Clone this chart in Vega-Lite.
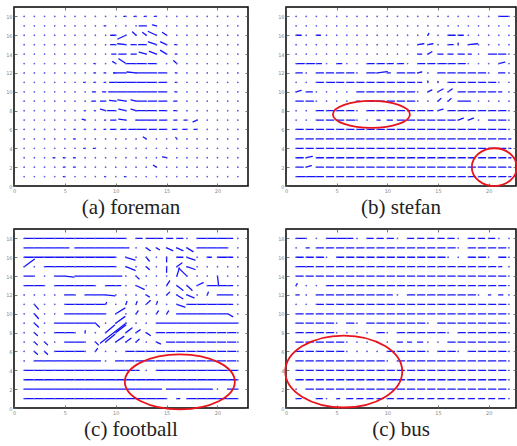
{
"$schema":"https://vega.github.io/schema/vega-lite/v6.json",
"padding":{"left":4,"top":5,"right":1,"bottom":0},
"bounds":"flush",
"columns":2,
"spacing":{"row":43,"column":38},
"config":{
"view":{"stroke":"#000","strokeWidth":1.5},
"axis":{"domain":false,"grid":false,"title":null,"labelFontSize":5,"labelColor":"#888","labelFont":"DejaVu Sans","tickColor":"#555","tickSize":-3,"tickWidth":0.8,"labelPadding":5,"labelFlush":false,"labelOverlap":false}
},
"datasets":{
"a":[
{"x":1,"y":18,"x2":1},{"x":2,"y":18,"x2":2},{"x":3,"y":18,"x2":3},{"x":4,"y":18,"x2":4},{"x":5,"y":18,"x2":5},{"x":6,"y":18,"x2":6},{"x":7,"y":18,"x2":7},{"x":8,"y":18,"x2":8},{"x":9,"y":18,"x2":9},{"x":10,"y":18,"x2":10},{"x":11,"y":18,"x2":10.8},{"x":12,"y":18,"x2":11.8},{"x":13,"y":18,"x2":12.8},{"x":14,"y":18,"x2":13.8},{"x":15,"y":18,"x2":15},{"x":16,"y":18,"x2":16},{"x":17,"y":18,"x2":17},{"x":18,"y":18,"x2":18},{"x":19,"y":18,"x2":19},{"x":20,"y":18,"x2":20},{"x":21,"y":18,"x2":21},{"x":22,"y":18,"x2":22},
{"x":1,"y":17,"x2":1},{"x":2,"y":17,"x2":2},{"x":3,"y":17,"x2":3},{"x":4,"y":17,"x2":4},{"x":5,"y":17,"x2":5},{"x":6,"y":17,"x2":6},{"x":7,"y":17,"x2":7},{"x":8,"y":17,"x2":8},{"x":9,"y":17,"x2":8.85},{"x":10,"y":17,"x2":10},{"x":11,"y":17,"x2":11},{"x":12,"y":17,"x2":12},{"x":13,"y":17,"x2":12.3},{"x":14,"y":17,"x2":14},{"x":15,"y":17,"x2":15},{"x":16,"y":17,"x2":16},{"x":17,"y":17,"x2":17},{"x":18,"y":17,"x2":18},{"x":19,"y":17,"x2":19},{"x":20,"y":17,"x2":20},{"x":21,"y":17,"x2":21},{"x":22,"y":17,"x2":22},
{"x":1,"y":16,"x2":1},{"x":2,"y":16,"x2":2},{"x":3,"y":16,"x2":3},{"x":4,"y":16,"x2":4},{"x":5,"y":16,"x2":5},{"x":6,"y":16,"x2":6},{"x":7,"y":16,"x2":7},{"x":8,"y":16,"x2":8},{"x":9,"y":16,"x2":9},{"x":10,"y":16,"x2":9.5},{"x":11,"y":16,"x2":11},{"x":12,"y":16,"x2":12},{"x":13,"y":16,"x2":13},{"x":14,"y":16,"x2":14},{"x":15,"y":16,"x2":15},{"x":16,"y":16,"x2":16},{"x":17,"y":16,"x2":17},{"x":18,"y":16,"x2":18},{"x":19,"y":16,"x2":19},{"x":20,"y":16,"x2":20},{"x":21,"y":16,"x2":21},{"x":22,"y":16,"x2":22},
{"x":1,"y":15,"x2":1},{"x":2,"y":15,"x2":2},{"x":3,"y":15,"x2":3},{"x":4,"y":15,"x2":4},{"x":5,"y":15,"x2":5},{"x":6,"y":15,"x2":6},{"x":7,"y":15,"x2":7},{"x":8,"y":15,"x2":8},{"x":9,"y":15,"x2":9},{"x":10,"y":15,"x2":9.5},{"x":11,"y":15,"x2":11},{"x":12,"y":15,"x2":11.5},{"x":13,"y":15,"x2":12.25},{"x":14,"y":15,"x2":14},{"x":15,"y":15,"x2":15},{"x":16,"y":15,"x2":15.8},{"x":17,"y":15,"x2":17},{"x":18,"y":15,"x2":18},{"x":19,"y":15,"x2":19},{"x":20,"y":15,"x2":20},{"x":21,"y":15,"x2":21},{"x":22,"y":15,"x2":22},
{"x":1,"y":14,"x2":1},{"x":2,"y":14,"x2":2},{"x":3,"y":14,"x2":3},{"x":4,"y":14,"x2":4},{"x":5,"y":14,"x2":5},{"x":6,"y":14,"x2":6},{"x":7,"y":14,"x2":7},{"x":8,"y":14,"x2":8},{"x":9,"y":14,"x2":9},{"x":10,"y":14,"x2":9.6},{"x":11,"y":14,"x2":10.3},{"x":12,"y":14,"x2":11.5},{"x":13,"y":14,"x2":13},{"x":14,"y":14,"x2":14},{"x":15,"y":14,"x2":15},{"x":16,"y":14,"x2":15.85},{"x":17,"y":14,"x2":17},{"x":18,"y":14,"x2":18},{"x":19,"y":14,"x2":19},{"x":20,"y":14,"x2":20},{"x":21,"y":14,"x2":21},{"x":22,"y":14,"x2":22},
{"x":1,"y":13,"x2":1},{"x":2,"y":13,"x2":2},{"x":3,"y":13,"x2":3},{"x":4,"y":13,"x2":4},{"x":5,"y":13,"x2":5},{"x":6,"y":13,"x2":6},{"x":7,"y":13,"x2":7},{"x":8,"y":13,"x2":7.85},{"x":9,"y":13,"x2":9},{"x":10,"y":13,"x2":10},{"x":11,"y":13,"x2":11},{"x":12,"y":13,"x2":11.1},{"x":13,"y":13,"x2":12.1},{"x":14,"y":13,"x2":13.2},{"x":15,"y":13,"x2":15},{"x":16,"y":13,"x2":16},{"x":17,"y":13,"x2":17},{"x":18,"y":13,"x2":18},{"x":19,"y":13,"x2":19},{"x":20,"y":13,"x2":20},{"x":21,"y":13,"x2":21},{"x":22,"y":13,"x2":22},
{"x":1,"y":12,"x2":1},{"x":2,"y":12,"x2":2},{"x":3,"y":12,"x2":3},{"x":4,"y":12,"x2":4},{"x":5,"y":12,"x2":5},{"x":6,"y":12,"x2":6},{"x":7,"y":12,"x2":7},{"x":8,"y":12,"x2":7.85},{"x":9,"y":12,"x2":8.85},{"x":10,"y":12,"x2":9.8},{"x":11,"y":12,"x2":9.8},{"x":12,"y":12,"x2":12},{"x":13,"y":12,"x2":12},{"x":14,"y":12,"x2":13.1},{"x":15,"y":12,"x2":14.2},{"x":16,"y":12,"x2":15.85},{"x":17,"y":12,"x2":17},{"x":18,"y":12,"x2":18},{"x":19,"y":12,"x2":19},{"x":20,"y":12,"x2":20},{"x":21,"y":12,"x2":21},{"x":22,"y":12,"x2":22},
{"x":1,"y":11,"x2":1},{"x":2,"y":11,"x2":2},{"x":3,"y":11,"x2":3},{"x":4,"y":11,"x2":4},{"x":5,"y":11,"x2":5},{"x":6,"y":11,"x2":6},{"x":7,"y":11,"x2":6.85},{"x":8,"y":11,"x2":7.85},{"x":9,"y":11,"x2":8.85},{"x":10,"y":11,"x2":9.4},{"x":11,"y":11,"x2":10},{"x":12,"y":11,"x2":11},{"x":13,"y":11,"x2":12.1},{"x":14,"y":11,"x2":13.1},{"x":15,"y":11,"x2":14.25},{"x":16,"y":11,"x2":15.85},{"x":17,"y":11,"x2":17},{"x":18,"y":11,"x2":18},{"x":19,"y":11,"x2":19},{"x":20,"y":11,"x2":20},{"x":21,"y":11,"x2":21},{"x":22,"y":11,"x2":22},
{"x":1,"y":10,"x2":1},{"x":2,"y":10,"x2":2},{"x":3,"y":10,"x2":3},{"x":4,"y":10,"x2":4},{"x":5,"y":10,"x2":5},{"x":6,"y":10,"x2":6},{"x":7,"y":10,"x2":7},{"x":8,"y":10,"x2":7.7},{"x":9,"y":10,"x2":8.7},{"x":10,"y":10,"x2":9.3},{"x":11,"y":10,"x2":10.1},{"x":12,"y":10,"x2":11.1},{"x":13,"y":10,"x2":12.1},{"x":14,"y":10,"x2":13.1},{"x":15,"y":10,"x2":14.2},{"x":16,"y":10,"x2":15.8},{"x":17,"y":10,"x2":17},{"x":18,"y":10,"x2":18},{"x":19,"y":10,"x2":19},{"x":20,"y":10,"x2":20},{"x":21,"y":10,"x2":21},{"x":22,"y":10,"x2":22},
{"x":1,"y":9,"x2":1},{"x":2,"y":9,"x2":2},{"x":3,"y":9,"x2":3},{"x":4,"y":9,"x2":4},{"x":5,"y":9,"x2":5},{"x":6,"y":9,"x2":6},{"x":7,"y":9,"x2":7},{"x":8,"y":9,"x2":7.65},{"x":9,"y":9,"x2":8.5},{"x":10,"y":9,"x2":10},{"x":11,"y":9,"x2":11},{"x":12,"y":9,"x2":12},{"x":13,"y":9,"x2":12.1},{"x":14,"y":9,"x2":13.2},{"x":15,"y":9,"x2":14.25},{"x":16,"y":9,"x2":15.7},{"x":17,"y":9,"x2":17},{"x":18,"y":9,"x2":18},{"x":19,"y":9,"x2":19},{"x":20,"y":9,"x2":20},{"x":21,"y":9,"x2":21},{"x":22,"y":9,"x2":22},
{"x":1,"y":8,"x2":1},{"x":2,"y":8,"x2":2},{"x":3,"y":8,"x2":3},{"x":4,"y":8,"x2":4},{"x":5,"y":8,"x2":5},{"x":6,"y":8,"x2":6},{"x":7,"y":8,"x2":6.9},{"x":8,"y":8,"x2":7.9},{"x":9,"y":8,"x2":9},{"x":10,"y":8,"x2":9.2},{"x":11,"y":8,"x2":11},{"x":12,"y":8,"x2":12},{"x":13,"y":8,"x2":12},{"x":14,"y":8,"x2":13.1},{"x":15,"y":8,"x2":14.3},{"x":16,"y":8,"x2":15.7},{"x":17,"y":8,"x2":17},{"x":18,"y":8,"x2":18},{"x":19,"y":8,"x2":19},{"x":20,"y":8,"x2":20},{"x":21,"y":8,"x2":21},{"x":22,"y":8,"x2":22},
{"x":1,"y":7,"x2":1},{"x":2,"y":7,"x2":2},{"x":3,"y":7,"x2":3},{"x":4,"y":7,"x2":4},{"x":5,"y":7,"x2":5},{"x":6,"y":7,"x2":6},{"x":7,"y":7,"x2":7},{"x":8,"y":7,"x2":8},{"x":9,"y":7,"x2":8.9},{"x":10,"y":7,"x2":9.5},{"x":11,"y":7,"x2":11},{"x":12,"y":7,"x2":12},{"x":13,"y":7,"x2":12},{"x":14,"y":7,"x2":13.1},{"x":15,"y":7,"x2":14.3},{"x":16,"y":7,"x2":15.7},{"x":17,"y":7,"x2":16.7},{"x":18,"y":7,"x2":18},{"x":19,"y":7,"x2":19},{"x":20,"y":7,"x2":20},{"x":21,"y":7,"x2":21},{"x":22,"y":7,"x2":22},
{"x":1,"y":6,"x2":1},{"x":2,"y":6,"x2":2},{"x":3,"y":6,"x2":3},{"x":4,"y":6,"x2":4},{"x":5,"y":6,"x2":5},{"x":6,"y":6,"x2":5.9},{"x":7,"y":6,"x2":6.9},{"x":8,"y":6,"x2":7.9},{"x":9,"y":6,"x2":8.85},{"x":10,"y":6,"x2":9.5},{"x":11,"y":6,"x2":10.5},{"x":12,"y":6,"x2":11.3},{"x":13,"y":6,"x2":12.1},{"x":14,"y":6,"x2":13.3},{"x":15,"y":6,"x2":14.3},{"x":16,"y":6,"x2":15.6},{"x":17,"y":6,"x2":16.6},{"x":18,"y":6,"x2":17.7},{"x":19,"y":6,"x2":19},{"x":20,"y":6,"x2":20},{"x":21,"y":6,"x2":21},{"x":22,"y":6,"x2":22},
{"x":1,"y":5,"x2":1},{"x":2,"y":5,"x2":2},{"x":3,"y":5,"x2":3},{"x":4,"y":5,"x2":4},{"x":5,"y":5,"x2":5},{"x":6,"y":5,"x2":5.85},{"x":7,"y":5,"x2":7},{"x":8,"y":5,"x2":8},{"x":9,"y":5,"x2":9},{"x":10,"y":5,"x2":10},{"x":11,"y":5,"x2":11},{"x":12,"y":5,"x2":12},{"x":13,"y":5,"x2":13},{"x":14,"y":5,"x2":14},{"x":15,"y":5,"x2":15},{"x":16,"y":5,"x2":16},{"x":17,"y":5,"x2":17},{"x":18,"y":5,"x2":18},{"x":19,"y":5,"x2":19},{"x":20,"y":5,"x2":20},{"x":21,"y":5,"x2":21},{"x":22,"y":5,"x2":22},
{"x":1,"y":4,"x2":1},{"x":2,"y":4,"x2":2},{"x":3,"y":4,"x2":3},{"x":4,"y":4,"x2":4},{"x":5,"y":4,"x2":5},{"x":6,"y":4,"x2":6},{"x":7,"y":4,"x2":6.85},{"x":8,"y":4,"x2":7.8},{"x":9,"y":4,"x2":9},{"x":10,"y":4,"x2":10},{"x":11,"y":4,"x2":11},{"x":12,"y":4,"x2":12},{"x":13,"y":4,"x2":13},{"x":14,"y":4,"x2":14},{"x":15,"y":4,"x2":15},{"x":16,"y":4,"x2":16},{"x":17,"y":4,"x2":17},{"x":18,"y":4,"x2":18},{"x":19,"y":4,"x2":19},{"x":20,"y":4,"x2":20},{"x":21,"y":4,"x2":21},{"x":22,"y":4,"x2":22},
{"x":1,"y":3,"x2":1},{"x":2,"y":3,"x2":2},{"x":3,"y":3,"x2":3},{"x":4,"y":3,"x2":3.85},{"x":5,"y":3,"x2":4.85},{"x":6,"y":3,"x2":5.85},{"x":7,"y":3,"x2":7},{"x":8,"y":3,"x2":8},{"x":9,"y":3,"x2":9},{"x":10,"y":3,"x2":10},{"x":11,"y":3,"x2":11},{"x":12,"y":3,"x2":12},{"x":13,"y":3,"x2":13},{"x":14,"y":3,"x2":14},{"x":15,"y":3,"x2":15},{"x":16,"y":3,"x2":16},{"x":17,"y":3,"x2":17},{"x":18,"y":3,"x2":18},{"x":19,"y":3,"x2":19},{"x":20,"y":3,"x2":20},{"x":21,"y":3,"x2":21},{"x":22,"y":3,"x2":22},
{"x":1,"y":2,"x2":1},{"x":2,"y":2,"x2":2},{"x":3,"y":2,"x2":3},{"x":4,"y":2,"x2":4},{"x":5,"y":2,"x2":4.85},{"x":6,"y":2,"x2":5.85},{"x":7,"y":2,"x2":7},{"x":8,"y":2,"x2":8},{"x":9,"y":2,"x2":9},{"x":10,"y":2,"x2":10},{"x":11,"y":2,"x2":11},{"x":12,"y":2,"x2":12},{"x":13,"y":2,"x2":13},{"x":14,"y":2,"x2":14},{"x":15,"y":2,"x2":15},{"x":16,"y":2,"x2":16},{"x":17,"y":2,"x2":17},{"x":18,"y":2,"x2":18},{"x":19,"y":2,"x2":19},{"x":20,"y":2,"x2":20},{"x":21,"y":2,"x2":21},{"x":22,"y":2,"x2":22},
{"x":1,"y":1,"x2":1},{"x":2,"y":1,"x2":2},{"x":3,"y":1,"x2":3},{"x":4,"y":1,"x2":4},{"x":5,"y":1,"x2":4.85},{"x":6,"y":1,"x2":6},{"x":7,"y":1,"x2":7},{"x":8,"y":1,"x2":8},{"x":9,"y":1,"x2":8.9},{"x":10,"y":1,"x2":10},{"x":11,"y":1,"x2":10.85},{"x":12,"y":1,"x2":12},{"x":13,"y":1,"x2":13},{"x":14,"y":1,"x2":14},{"x":15,"y":1,"x2":15},{"x":16,"y":1,"x2":16},{"x":17,"y":1,"x2":17},{"x":18,"y":1,"x2":18},{"x":19,"y":1,"x2":19},{"x":20,"y":1,"x2":20},{"x":21,"y":1,"x2":21},{"x":22,"y":1,"x2":22}
],
"ad":[
{"x":14,"y":17,"x2":13.6,"y2":17.1},
{"x":11,"y":16,"x2":10.2,"y2":15.6},{"x":12,"y":16,"x2":11.65,"y2":16.35},{"x":13,"y":16,"x2":12.65,"y2":16.3},{"x":14,"y":16,"x2":13.2,"y2":16.4},{"x":15,"y":16,"x2":14.6,"y2":16.3},
{"x":11,"y":15,"x2":10.2,"y2":15.1},{"x":14,"y":15,"x2":13.2,"y2":15.3},{"x":15,"y":15,"x2":14.4,"y2":15.3},
{"x":13,"y":14,"x2":12.3,"y2":14.2},{"x":14,"y":14,"x2":13.3,"y2":14.3},{"x":15,"y":14,"x2":14.4,"y2":14.4},
{"x":10,"y":13,"x2":9.7,"y2":13.2},{"x":11,"y":13,"x2":10.3,"y2":13.5},{"x":16,"y":13,"x2":15.7,"y2":13.3},
{"x":12,"y":12,"x2":11.1,"y2":12.1},
{"x":10,"y":9,"x2":9.4,"y2":9.1},{"x":11,"y":9,"x2":10.2,"y2":9.15},{"x":12,"y":9,"x2":11.5,"y2":9.15},
{"x":9,"y":8,"x2":8.5,"y2":8.15},{"x":11,"y":8,"x2":10.3,"y2":8.15},{"x":12,"y":8,"x2":11.5,"y2":8.15},
{"x":7,"y":7,"x2":6.7,"y2":7.1},{"x":11,"y":7,"x2":10.3,"y2":7.1},{"x":18,"y":7,"x2":17.6,"y2":6.8},
{"x":13,"y":5,"x2":12.7,"y2":5.2},{"x":16,"y":5,"x2":15.9,"y2":5.15},
{"x":15,"y":3,"x2":14.6,"y2":3.1},{"x":14,"y":2,"x2":13.7,"y2":2.2}
],
"b":[
{"x":1,"y":18,"x2":1},{"x":2,"y":18,"x2":2},{"x":3,"y":18,"x2":3},{"x":4,"y":18,"x2":4},{"x":5,"y":18,"x2":5},{"x":6,"y":18,"x2":6},{"x":7,"y":18,"x2":7},{"x":8,"y":18,"x2":8},{"x":9,"y":18,"x2":9},{"x":10,"y":18,"x2":10},{"x":11,"y":18,"x2":11},{"x":12,"y":18,"x2":12},{"x":13,"y":18,"x2":13},{"x":14,"y":18,"x2":14},{"x":15,"y":18,"x2":15},{"x":16,"y":18,"x2":16},{"x":17,"y":18,"x2":17},{"x":18,"y":18,"x2":18},{"x":19,"y":18,"x2":19},{"x":20,"y":18,"x2":20},{"x":21,"y":18,"x2":21.9},{"x":22,"y":18,"x2":22},
{"x":1,"y":17,"x2":1},{"x":2,"y":17,"x2":2},{"x":3,"y":17,"x2":3},{"x":4,"y":17,"x2":4},{"x":5,"y":17,"x2":5},{"x":6,"y":17,"x2":6},{"x":7,"y":17,"x2":7},{"x":8,"y":17,"x2":8},{"x":9,"y":17,"x2":9},{"x":10,"y":17,"x2":10},{"x":11,"y":17,"x2":11},{"x":12,"y":17,"x2":12},{"x":13,"y":17,"x2":13},{"x":14,"y":17,"x2":14},{"x":15,"y":17,"x2":15},{"x":16,"y":17,"x2":16},{"x":17,"y":17,"x2":17},{"x":18,"y":17,"x2":18},{"x":19,"y":17,"x2":19},{"x":20,"y":17,"x2":20},{"x":21,"y":17,"x2":21},{"x":22,"y":17,"x2":22},
{"x":1,"y":16,"x2":1.5},{"x":2,"y":16,"x2":2},{"x":3,"y":16,"x2":3.4},{"x":4,"y":16,"x2":4},{"x":5,"y":16,"x2":5},{"x":6,"y":16,"x2":6},{"x":7,"y":16,"x2":7},{"x":8,"y":16,"x2":8},{"x":9,"y":16,"x2":9},{"x":10,"y":16,"x2":10},{"x":11,"y":16,"x2":11},{"x":12,"y":16,"x2":12},{"x":13,"y":16,"x2":13},{"x":14,"y":16,"x2":14},{"x":15,"y":16,"x2":15},{"x":16,"y":16,"x2":16.7},{"x":17,"y":16,"x2":17.5},{"x":18,"y":16,"x2":18},{"x":19,"y":16,"x2":19},{"x":20,"y":16,"x2":20},{"x":21,"y":16,"x2":21},{"x":22,"y":16,"x2":22},
{"x":1,"y":15,"x2":1},{"x":2,"y":15,"x2":2},{"x":3,"y":15,"x2":3},{"x":4,"y":15,"x2":4},{"x":5,"y":15,"x2":5},{"x":6,"y":15,"x2":6},{"x":7,"y":15,"x2":7},{"x":8,"y":15,"x2":8},{"x":9,"y":15,"x2":9},{"x":10,"y":15,"x2":10},{"x":11,"y":15,"x2":11},{"x":12,"y":15,"x2":12},{"x":13,"y":15,"x2":13},{"x":14,"y":15,"x2":14},{"x":15,"y":15,"x2":15},{"x":16,"y":15,"x2":16.5},{"x":17,"y":15,"x2":17},{"x":18,"y":15,"x2":18},{"x":19,"y":15,"x2":19},{"x":20,"y":15,"x2":20},{"x":21,"y":15,"x2":21},{"x":22,"y":15,"x2":22},
{"x":1,"y":14,"x2":1},{"x":2,"y":14,"x2":2},{"x":3,"y":14,"x2":3},{"x":4,"y":14,"x2":4},{"x":5,"y":14,"x2":5},{"x":6,"y":14,"x2":6},{"x":7,"y":14,"x2":7},{"x":8,"y":14,"x2":8},{"x":9,"y":14,"x2":9},{"x":10,"y":14,"x2":10},{"x":11,"y":14,"x2":11},{"x":12,"y":14,"x2":12},{"x":13,"y":14,"x2":13.4},{"x":14,"y":14,"x2":14},{"x":15,"y":14,"x2":15.5},{"x":16,"y":14,"x2":16.5},{"x":17,"y":14,"x2":17.6},{"x":18,"y":14,"x2":18.3},{"x":19,"y":14,"x2":19},{"x":20,"y":14,"x2":20.8},{"x":21,"y":14,"x2":21.7},{"x":22,"y":14,"x2":22},
{"x":1,"y":13,"x2":1.8},{"x":2,"y":13,"x2":2.8},{"x":3,"y":13,"x2":3.5},{"x":4,"y":13,"x2":4},{"x":5,"y":13,"x2":5.5},{"x":6,"y":13,"x2":6},{"x":7,"y":13,"x2":7},{"x":8,"y":13,"x2":8.7},{"x":9,"y":13,"x2":9.7},{"x":10,"y":13,"x2":10.6},{"x":11,"y":13,"x2":11.6},{"x":12,"y":13,"x2":12},{"x":13,"y":13,"x2":13.7},{"x":14,"y":13,"x2":14.7},{"x":15,"y":13,"x2":15.8},{"x":16,"y":13,"x2":16.7},{"x":17,"y":13,"x2":17.7},{"x":18,"y":13,"x2":18},{"x":19,"y":13,"x2":19},{"x":20,"y":13,"x2":20},{"x":21,"y":13,"x2":21},{"x":22,"y":13,"x2":22},
{"x":1,"y":12,"x2":1.6},{"x":2,"y":12,"x2":2},{"x":3,"y":12,"x2":3.7},{"x":4,"y":12,"x2":4.7},{"x":5,"y":12,"x2":5.7},{"x":6,"y":12,"x2":6.7},{"x":7,"y":12,"x2":7},{"x":8,"y":12,"x2":8.8},{"x":9,"y":12,"x2":9},{"x":10,"y":12,"x2":10.3},{"x":11,"y":12,"x2":11.7},{"x":12,"y":12,"x2":12.7},{"x":13,"y":12,"x2":13},{"x":14,"y":12,"x2":14},{"x":15,"y":12,"x2":15.7},{"x":16,"y":12,"x2":16.7},{"x":17,"y":12,"x2":17.7},{"x":18,"y":12,"x2":18.7},{"x":19,"y":12,"x2":19.7},{"x":20,"y":12,"x2":20},{"x":21,"y":12,"x2":21.6},{"x":22,"y":12,"x2":22},
{"x":1,"y":11,"x2":1},{"x":2,"y":11,"x2":2},{"x":3,"y":11,"x2":3.7},{"x":4,"y":11,"x2":4.8},{"x":5,"y":11,"x2":5.7},{"x":6,"y":11,"x2":6.7},{"x":7,"y":11,"x2":7.7},{"x":8,"y":11,"x2":8.7},{"x":9,"y":11,"x2":9.7},{"x":10,"y":11,"x2":10.7},{"x":11,"y":11,"x2":11.7},{"x":12,"y":11,"x2":12.7},{"x":13,"y":11,"x2":13.4},{"x":14,"y":11,"x2":14},{"x":15,"y":11,"x2":15},{"x":16,"y":11,"x2":16.7},{"x":17,"y":11,"x2":17.7},{"x":18,"y":11,"x2":18.7},{"x":19,"y":11,"x2":19.7},{"x":20,"y":11,"x2":20.7},{"x":21,"y":11,"x2":21},{"x":22,"y":11,"x2":22},
{"x":1,"y":10,"x2":1},{"x":2,"y":10,"x2":2.6},{"x":3,"y":10,"x2":3},{"x":4,"y":10,"x2":4},{"x":5,"y":10,"x2":5},{"x":6,"y":10,"x2":6},{"x":7,"y":10,"x2":7.7},{"x":8,"y":10,"x2":8.7},{"x":9,"y":10,"x2":9.7},{"x":10,"y":10,"x2":10.7},{"x":11,"y":10,"x2":11.7},{"x":12,"y":10,"x2":12.7},{"x":13,"y":10,"x2":13},{"x":14,"y":10,"x2":14},{"x":15,"y":10,"x2":15},{"x":16,"y":10,"x2":16},{"x":17,"y":10,"x2":17.7},{"x":18,"y":10,"x2":18.7},{"x":19,"y":10,"x2":19.7},{"x":20,"y":10,"x2":20.7},{"x":21,"y":10,"x2":21.3},{"x":22,"y":10,"x2":22},
{"x":1,"y":9,"x2":1.7},{"x":2,"y":9,"x2":2.7},{"x":3,"y":9,"x2":3},{"x":4,"y":9,"x2":4},{"x":5,"y":9,"x2":5},{"x":6,"y":9,"x2":6},{"x":7,"y":9,"x2":7.3},{"x":8,"y":9,"x2":8.7},{"x":9,"y":9,"x2":9.7},{"x":10,"y":9,"x2":10.7},{"x":11,"y":9,"x2":11.7},{"x":12,"y":9,"x2":12.7},{"x":13,"y":9,"x2":13},{"x":14,"y":9,"x2":14},{"x":15,"y":9,"x2":15},{"x":16,"y":9,"x2":16},{"x":17,"y":9,"x2":17.9},{"x":18,"y":9,"x2":18.2},{"x":19,"y":9,"x2":19},{"x":20,"y":9,"x2":20},{"x":21,"y":9,"x2":21},{"x":22,"y":9,"x2":22},
{"x":1,"y":8,"x2":1},{"x":2,"y":8,"x2":2},{"x":3,"y":8,"x2":3.7},{"x":4,"y":8,"x2":4.7},{"x":5,"y":8,"x2":5.7},{"x":6,"y":8,"x2":6.7},{"x":7,"y":8,"x2":7},{"x":8,"y":8,"x2":8.7},{"x":9,"y":8,"x2":9.7},{"x":10,"y":8,"x2":10.7},{"x":11,"y":8,"x2":11.7},{"x":12,"y":8,"x2":12.7},{"x":13,"y":8,"x2":13.7},{"x":14,"y":8,"x2":14.5},{"x":15,"y":8,"x2":15},{"x":16,"y":8,"x2":16.7},{"x":17,"y":8,"x2":17.8},{"x":18,"y":8,"x2":18.7},{"x":19,"y":8,"x2":19.7},{"x":20,"y":8,"x2":20.7},{"x":21,"y":8,"x2":21.7},{"x":22,"y":8,"x2":22},
{"x":1,"y":7,"x2":1},{"x":2,"y":7,"x2":2},{"x":3,"y":7,"x2":3.7},{"x":4,"y":7,"x2":4.7},{"x":5,"y":7,"x2":5.7},{"x":6,"y":7,"x2":6.8},{"x":7,"y":7,"x2":7},{"x":8,"y":7,"x2":8},{"x":9,"y":7,"x2":9.3},{"x":10,"y":7,"x2":10.5},{"x":11,"y":7,"x2":11.7},{"x":12,"y":7,"x2":12.7},{"x":13,"y":7,"x2":13.7},{"x":14,"y":7,"x2":14.7},{"x":15,"y":7,"x2":15.7},{"x":16,"y":7,"x2":16.7},{"x":17,"y":7,"x2":17},{"x":18,"y":7,"x2":18},{"x":19,"y":7,"x2":19},{"x":20,"y":7,"x2":20.7},{"x":21,"y":7,"x2":21.7},{"x":22,"y":7,"x2":22},
{"x":1,"y":6,"x2":1.7},{"x":2,"y":6,"x2":2.7},{"x":3,"y":6,"x2":3.7},{"x":4,"y":6,"x2":4.7},{"x":5,"y":6,"x2":5.7},{"x":6,"y":6,"x2":6.7},{"x":7,"y":6,"x2":7.7},{"x":8,"y":6,"x2":8.7},{"x":9,"y":6,"x2":9.7},{"x":10,"y":6,"x2":10.7},{"x":11,"y":6,"x2":11.7},{"x":12,"y":6,"x2":12.7},{"x":13,"y":6,"x2":13.7},{"x":14,"y":6,"x2":14.7},{"x":15,"y":6,"x2":15.7},{"x":16,"y":6,"x2":16.7},{"x":17,"y":6,"x2":17.7},{"x":18,"y":6,"x2":18.7},{"x":19,"y":6,"x2":19.7},{"x":20,"y":6,"x2":20.7},{"x":21,"y":6,"x2":21.7},{"x":22,"y":6,"x2":22},
{"x":1,"y":5,"x2":1.7},{"x":2,"y":5,"x2":2.7},{"x":3,"y":5,"x2":3.7},{"x":4,"y":5,"x2":4.7},{"x":5,"y":5,"x2":5.7},{"x":6,"y":5,"x2":6.7},{"x":7,"y":5,"x2":7.7},{"x":8,"y":5,"x2":8.7},{"x":9,"y":5,"x2":9.7},{"x":10,"y":5,"x2":10.7},{"x":11,"y":5,"x2":11.7},{"x":12,"y":5,"x2":12.7},{"x":13,"y":5,"x2":13.7},{"x":14,"y":5,"x2":14.7},{"x":15,"y":5,"x2":15.7},{"x":16,"y":5,"x2":16.7},{"x":17,"y":5,"x2":17.7},{"x":18,"y":5,"x2":18.7},{"x":19,"y":5,"x2":19.7},{"x":20,"y":5,"x2":20.7},{"x":21,"y":5,"x2":21.7},{"x":22,"y":5,"x2":22.2},
{"x":1,"y":4,"x2":1.7},{"x":2,"y":4,"x2":2.7},{"x":3,"y":4,"x2":3.7},{"x":4,"y":4,"x2":4.7},{"x":5,"y":4,"x2":5.7},{"x":6,"y":4,"x2":6.7},{"x":7,"y":4,"x2":7.7},{"x":8,"y":4,"x2":8.7},{"x":9,"y":4,"x2":9.7},{"x":10,"y":4,"x2":10.7},{"x":11,"y":4,"x2":11.7},{"x":12,"y":4,"x2":12.7},{"x":13,"y":4,"x2":13.7},{"x":14,"y":4,"x2":14.7},{"x":15,"y":4,"x2":15.7},{"x":16,"y":4,"x2":16.7},{"x":17,"y":4,"x2":17.7},{"x":18,"y":4,"x2":18.7},{"x":19,"y":4,"x2":19.7},{"x":20,"y":4,"x2":20.9},{"x":21,"y":4,"x2":21.7},{"x":22,"y":4,"x2":22.2},
{"x":1,"y":3,"x2":1.7},{"x":2,"y":3,"x2":2},{"x":3,"y":3,"x2":3.7},{"x":4,"y":3,"x2":4.7},{"x":5,"y":3,"x2":5.7},{"x":6,"y":3,"x2":6.7},{"x":7,"y":3,"x2":7.7},{"x":8,"y":3,"x2":8.7},{"x":9,"y":3,"x2":9.7},{"x":10,"y":3,"x2":10.7},{"x":11,"y":3,"x2":11.7},{"x":12,"y":3,"x2":12.7},{"x":13,"y":3,"x2":13.7},{"x":14,"y":3,"x2":14.7},{"x":15,"y":3,"x2":15.7},{"x":16,"y":3,"x2":16.7},{"x":17,"y":3,"x2":17.7},{"x":18,"y":3,"x2":18.7},{"x":19,"y":3,"x2":19.7},{"x":20,"y":3,"x2":20.7},{"x":21,"y":3,"x2":21.7},{"x":22,"y":3,"x2":22.2},
{"x":1,"y":2,"x2":1.7},{"x":2,"y":2,"x2":2},{"x":3,"y":2,"x2":3.7},{"x":4,"y":2,"x2":4.7},{"x":5,"y":2,"x2":5.7},{"x":6,"y":2,"x2":6.7},{"x":7,"y":2,"x2":7.7},{"x":8,"y":2,"x2":8.7},{"x":9,"y":2,"x2":9.7},{"x":10,"y":2,"x2":10.7},{"x":11,"y":2,"x2":11.7},{"x":12,"y":2,"x2":12.7},{"x":13,"y":2,"x2":13.7},{"x":14,"y":2,"x2":14.7},{"x":15,"y":2,"x2":15.7},{"x":16,"y":2,"x2":16.7},{"x":17,"y":2,"x2":17.7},{"x":18,"y":2,"x2":18.7},{"x":19,"y":2,"x2":19.7},{"x":20,"y":2,"x2":20.7},{"x":21,"y":2,"x2":21.7},{"x":22,"y":2,"x2":22.2},
{"x":1,"y":1,"x2":1.9},{"x":2,"y":1,"x2":2.9},{"x":3,"y":1,"x2":3.7},{"x":4,"y":1,"x2":4.7},{"x":5,"y":1,"x2":5.7},{"x":6,"y":1,"x2":6.7},{"x":7,"y":1,"x2":7.7},{"x":8,"y":1,"x2":8.7},{"x":9,"y":1,"x2":9.7},{"x":10,"y":1,"x2":10.7},{"x":11,"y":1,"x2":11.7},{"x":12,"y":1,"x2":12.7},{"x":13,"y":1,"x2":13.7},{"x":14,"y":1,"x2":14.7},{"x":15,"y":1,"x2":15.7},{"x":16,"y":1,"x2":16.7},{"x":17,"y":1,"x2":17.7},{"x":18,"y":1,"x2":18.7},{"x":19,"y":1,"x2":19.7},{"x":20,"y":1,"x2":20.7},{"x":21,"y":1,"x2":21.7},{"x":22,"y":1,"x2":22.2}
],
"bd":[
{"x":14,"y":16,"x2":14.1,"y2":16.2},
{"x":13,"y":15,"x2":13.6,"y2":15.1},{"x":14,"y":15,"x2":14.5,"y2":15.1},{"x":17,"y":15,"x2":17,"y2":15.15},{"x":18,"y":15,"x2":18.9,"y2":15.1},
{"x":14,"y":14,"x2":14.4,"y2":14.25},{"x":21,"y":13,"x2":21.6,"y2":13.15},
{"x":9,"y":12,"x2":10,"y2":12.15},{"x":13,"y":12,"x2":13.4,"y2":12.1},
{"x":14,"y":11,"x2":14,"y2":11.15},{"x":15,"y":11,"x2":15,"y2":11.1},
{"x":1,"y":10,"x2":1.5,"y2":10.15},{"x":14,"y":10,"x2":14.4,"y2":10.2},{"x":15,"y":10,"x2":15.5,"y2":10.3},{"x":16,"y":10,"x2":16.4,"y2":10.3},
{"x":15,"y":9,"x2":15.3,"y2":9.3},{"x":16,"y":9,"x2":16.3,"y2":9.3},
{"x":15,"y":8,"x2":15.5,"y2":8.15},
{"x":17,"y":7,"x2":17.5,"y2":7.2},{"x":18,"y":7,"x2":18.5,"y2":7.2},
{"x":2,"y":3,"x2":2.6,"y2":3.15},{"x":2,"y":2,"x2":2.5,"y2":2.15}
],
"c":[
{"x":1,"y":18,"x2":1.9},{"x":2,"y":18,"x2":2.9},{"x":3,"y":18,"x2":3.9},{"x":4,"y":18,"x2":4.9},{"x":5,"y":18,"x2":5.9},{"x":6,"y":18,"x2":6.9},{"x":7,"y":18,"x2":7.9},{"x":8,"y":18,"x2":8.9},{"x":9,"y":18,"x2":9.9},{"x":10,"y":18,"x2":10.9},{"x":11,"y":18,"x2":11},{"x":12,"y":18,"x2":12.6},{"x":13,"y":18,"x2":13.9},{"x":14,"y":18,"x2":14.6},{"x":15,"y":18,"x2":15.6},{"x":16,"y":18,"x2":16.6},{"x":17,"y":18,"x2":17},{"x":18,"y":18,"x2":18.9},{"x":19,"y":18,"x2":19.9},{"x":20,"y":18,"x2":20.9},{"x":21,"y":18,"x2":21.5},{"x":22,"y":18,"x2":22},
{"x":1,"y":17,"x2":1.9},{"x":2,"y":17,"x2":2.9},{"x":3,"y":17,"x2":3.9},{"x":4,"y":17,"x2":4.9},{"x":5,"y":17,"x2":5.4},{"x":6,"y":17,"x2":6.9},{"x":7,"y":17,"x2":7.9},{"x":8,"y":17,"x2":8.9},{"x":9,"y":17,"x2":9.9},{"x":10,"y":17,"x2":10.9},{"x":11,"y":17,"x2":11.3},{"x":12,"y":17,"x2":12},{"x":13,"y":17,"x2":13},{"x":14,"y":17,"x2":14},{"x":15,"y":17,"x2":15},{"x":16,"y":17,"x2":16},{"x":17,"y":17,"x2":17},{"x":18,"y":17,"x2":18.9},{"x":19,"y":17,"x2":19.9},{"x":20,"y":17,"x2":20.9},{"x":21,"y":17,"x2":21},{"x":22,"y":17,"x2":22},
{"x":1,"y":16,"x2":1.9},{"x":2,"y":16,"x2":2.9},{"x":3,"y":16,"x2":3.9},{"x":4,"y":16,"x2":4.9},{"x":5,"y":16,"x2":5.9},{"x":6,"y":16,"x2":6.9},{"x":7,"y":16,"x2":7.9},{"x":8,"y":16,"x2":8.9},{"x":9,"y":16,"x2":9.9},{"x":10,"y":16,"x2":10},{"x":11,"y":16,"x2":11},{"x":12,"y":16,"x2":12},{"x":13,"y":16,"x2":13},{"x":14,"y":16,"x2":14},{"x":15,"y":16,"x2":15},{"x":16,"y":16,"x2":16.6},{"x":17,"y":16,"x2":17},{"x":18,"y":16,"x2":18},{"x":19,"y":16,"x2":19.4},{"x":20,"y":16,"x2":20.9},{"x":21,"y":16,"x2":21.5},{"x":22,"y":16,"x2":22},
{"x":1,"y":15,"x2":1},{"x":2,"y":15,"x2":2},{"x":3,"y":15,"x2":3.9},{"x":4,"y":15,"x2":4.9},{"x":5,"y":15,"x2":5.9},{"x":6,"y":15,"x2":6.9},{"x":7,"y":15,"x2":7.9},{"x":8,"y":15,"x2":8.9},{"x":9,"y":15,"x2":9.9},{"x":10,"y":15,"x2":10},{"x":11,"y":15,"x2":11},{"x":12,"y":15,"x2":12},{"x":13,"y":15,"x2":13},{"x":14,"y":15,"x2":14},{"x":15,"y":15,"x2":15},{"x":16,"y":15,"x2":16},{"x":17,"y":15,"x2":17},{"x":18,"y":15,"x2":18},{"x":19,"y":15,"x2":19},{"x":20,"y":15,"x2":20},{"x":21,"y":15,"x2":21},{"x":22,"y":15,"x2":22},
{"x":1,"y":14,"x2":1.9},{"x":2,"y":14,"x2":2},{"x":3,"y":14,"x2":3},{"x":4,"y":14,"x2":4.9},{"x":5,"y":14,"x2":5},{"x":6,"y":14,"x2":6.9},{"x":7,"y":14,"x2":7.9},{"x":8,"y":14,"x2":8.9},{"x":9,"y":14,"x2":9.9},{"x":10,"y":14,"x2":10.6},{"x":11,"y":14,"x2":11},{"x":12,"y":14,"x2":12},{"x":13,"y":14,"x2":13},{"x":14,"y":14,"x2":14},{"x":15,"y":14,"x2":15},{"x":16,"y":14,"x2":16},{"x":17,"y":14,"x2":17},{"x":18,"y":14,"x2":18},{"x":19,"y":14,"x2":19},{"x":20,"y":14,"x2":20},{"x":21,"y":14,"x2":21},{"x":22,"y":14,"x2":22},
{"x":1,"y":13,"x2":1.9},{"x":2,"y":13,"x2":2.9},{"x":3,"y":13,"x2":3},{"x":4,"y":13,"x2":4.9},{"x":5,"y":13,"x2":5.9},{"x":6,"y":13,"x2":6.9},{"x":7,"y":13,"x2":7.9},{"x":8,"y":13,"x2":8},{"x":9,"y":13,"x2":9.9},{"x":10,"y":13,"x2":10.5},{"x":11,"y":13,"x2":11},{"x":12,"y":13,"x2":12},{"x":13,"y":13,"x2":13},{"x":14,"y":13,"x2":14},{"x":15,"y":13,"x2":15},{"x":16,"y":13,"x2":16},{"x":17,"y":13,"x2":17},{"x":18,"y":13,"x2":18},{"x":19,"y":13,"x2":19.9},{"x":20,"y":13,"x2":20.9},{"x":21,"y":13,"x2":21.5},{"x":22,"y":13,"x2":22},
{"x":1,"y":12,"x2":1},{"x":2,"y":12,"x2":2},{"x":3,"y":12,"x2":3},{"x":4,"y":12,"x2":4},{"x":5,"y":12,"x2":5.9},{"x":6,"y":12,"x2":6},{"x":7,"y":12,"x2":7.9},{"x":8,"y":12,"x2":8.9},{"x":9,"y":12,"x2":9},{"x":10,"y":12,"x2":10},{"x":11,"y":12,"x2":11},{"x":12,"y":12,"x2":12},{"x":13,"y":12,"x2":13},{"x":14,"y":12,"x2":14},{"x":15,"y":12,"x2":15},{"x":16,"y":12,"x2":16},{"x":17,"y":12,"x2":17},{"x":18,"y":12,"x2":18},{"x":19,"y":12,"x2":19},{"x":20,"y":12,"x2":20.9},{"x":21,"y":12,"x2":21.5},{"x":22,"y":12,"x2":22},
{"x":1,"y":11,"x2":1},{"x":2,"y":11,"x2":2},{"x":3,"y":11,"x2":3},{"x":4,"y":11,"x2":4},{"x":5,"y":11,"x2":5.9},{"x":6,"y":11,"x2":6.9},{"x":7,"y":11,"x2":7.9},{"x":8,"y":11,"x2":8.9},{"x":9,"y":11,"x2":9},{"x":10,"y":11,"x2":10},{"x":11,"y":11,"x2":11},{"x":12,"y":11,"x2":12},{"x":13,"y":11,"x2":13},{"x":14,"y":11,"x2":14},{"x":15,"y":11,"x2":15},{"x":16,"y":11,"x2":16},{"x":17,"y":11,"x2":17.9},{"x":18,"y":11,"x2":18.9},{"x":19,"y":11,"x2":19.9},{"x":20,"y":11,"x2":20.9},{"x":21,"y":11,"x2":21.5},{"x":22,"y":11,"x2":22},
{"x":1,"y":10,"x2":1},{"x":2,"y":10,"x2":2},{"x":3,"y":10,"x2":3},{"x":4,"y":10,"x2":4},{"x":5,"y":10,"x2":5.9},{"x":6,"y":10,"x2":6.9},{"x":7,"y":10,"x2":7.9},{"x":8,"y":10,"x2":8.9},{"x":9,"y":10,"x2":9},{"x":10,"y":10,"x2":10},{"x":11,"y":10,"x2":11},{"x":12,"y":10,"x2":12},{"x":13,"y":10,"x2":13},{"x":14,"y":10,"x2":14},{"x":15,"y":10,"x2":15},{"x":16,"y":10,"x2":16.9},{"x":17,"y":10,"x2":17.9},{"x":18,"y":10,"x2":18.9},{"x":19,"y":10,"x2":19.9},{"x":20,"y":10,"x2":20.9},{"x":21,"y":10,"x2":21},{"x":22,"y":10,"x2":22},
{"x":1,"y":9,"x2":1},{"x":2,"y":9,"x2":2},{"x":3,"y":9,"x2":3},{"x":4,"y":9,"x2":4.9},{"x":5,"y":9,"x2":5.9},{"x":6,"y":9,"x2":6.9},{"x":7,"y":9,"x2":7.9},{"x":8,"y":9,"x2":8},{"x":9,"y":9,"x2":9},{"x":10,"y":9,"x2":10},{"x":11,"y":9,"x2":11},{"x":12,"y":9,"x2":12},{"x":13,"y":9,"x2":13},{"x":14,"y":9,"x2":14.9},{"x":15,"y":9,"x2":15.9},{"x":16,"y":9,"x2":16.9},{"x":17,"y":9,"x2":17.9},{"x":18,"y":9,"x2":18.9},{"x":19,"y":9,"x2":19.9},{"x":20,"y":9,"x2":20.9},{"x":21,"y":9,"x2":21.9},{"x":22,"y":9,"x2":22},
{"x":1,"y":8,"x2":1},{"x":2,"y":8,"x2":2},{"x":3,"y":8,"x2":3},{"x":4,"y":8,"x2":4.9},{"x":5,"y":8,"x2":5.9},{"x":6,"y":8,"x2":6},{"x":7,"y":8,"x2":7},{"x":8,"y":8,"x2":8},{"x":9,"y":8,"x2":9},{"x":10,"y":8,"x2":10},{"x":11,"y":8,"x2":11},{"x":12,"y":8,"x2":12},{"x":13,"y":8,"x2":13},{"x":14,"y":8,"x2":14.8},{"x":15,"y":8,"x2":15.8},{"x":16,"y":8,"x2":16.8},{"x":17,"y":8,"x2":17.8},{"x":18,"y":8,"x2":18.8},{"x":19,"y":8,"x2":19.8},{"x":20,"y":8,"x2":20.8},{"x":21,"y":8,"x2":21.8},{"x":22,"y":8,"x2":22},
{"x":1,"y":7,"x2":1},{"x":2,"y":7,"x2":2},{"x":3,"y":7,"x2":3},{"x":4,"y":7,"x2":4},{"x":5,"y":7,"x2":5.9},{"x":6,"y":7,"x2":6.9},{"x":7,"y":7,"x2":7},{"x":8,"y":7,"x2":8},{"x":9,"y":7,"x2":9},{"x":10,"y":7,"x2":10},{"x":11,"y":7,"x2":11},{"x":12,"y":7,"x2":12},{"x":13,"y":7,"x2":13},{"x":14,"y":7,"x2":14},{"x":15,"y":7,"x2":15.8},{"x":16,"y":7,"x2":16.8},{"x":17,"y":7,"x2":17.8},{"x":18,"y":7,"x2":18.8},{"x":19,"y":7,"x2":19.8},{"x":20,"y":7,"x2":20.8},{"x":21,"y":7,"x2":21.8},{"x":22,"y":7,"x2":22},
{"x":1,"y":6,"x2":1},{"x":2,"y":6,"x2":2},{"x":3,"y":6,"x2":3},{"x":4,"y":6,"x2":4.9},{"x":5,"y":6,"x2":5.9},{"x":6,"y":6,"x2":6.9},{"x":7,"y":6,"x2":7},{"x":8,"y":6,"x2":8},{"x":9,"y":6,"x2":9},{"x":10,"y":6,"x2":10},{"x":11,"y":6,"x2":11.8},{"x":12,"y":6,"x2":12.8},{"x":13,"y":6,"x2":13.8},{"x":14,"y":6,"x2":14.8},{"x":15,"y":6,"x2":15.8},{"x":16,"y":6,"x2":16.8},{"x":17,"y":6,"x2":17.8},{"x":18,"y":6,"x2":18.8},{"x":19,"y":6,"x2":19.8},{"x":20,"y":6,"x2":20.8},{"x":21,"y":6,"x2":21.8},{"x":22,"y":6,"x2":22},
{"x":1,"y":5,"x2":1},{"x":2,"y":5,"x2":2.9},{"x":3,"y":5,"x2":3.9},{"x":4,"y":5,"x2":4.9},{"x":5,"y":5,"x2":5.9},{"x":6,"y":5,"x2":6.9},{"x":7,"y":5,"x2":7.9},{"x":8,"y":5,"x2":8.5},{"x":9,"y":5,"x2":9},{"x":10,"y":5,"x2":10.8},{"x":11,"y":5,"x2":11.8},{"x":12,"y":5,"x2":12.8},{"x":13,"y":5,"x2":13.8},{"x":14,"y":5,"x2":14.8},{"x":15,"y":5,"x2":15.8},{"x":16,"y":5,"x2":16.8},{"x":17,"y":5,"x2":17.8},{"x":18,"y":5,"x2":18.8},{"x":19,"y":5,"x2":19.8},{"x":20,"y":5,"x2":20.8},{"x":21,"y":5,"x2":21.8},{"x":22,"y":5,"x2":22},
{"x":1,"y":4,"x2":1.9},{"x":2,"y":4,"x2":2.9},{"x":3,"y":4,"x2":3.9},{"x":4,"y":4,"x2":4.9},{"x":5,"y":4,"x2":5.9},{"x":6,"y":4,"x2":6.9},{"x":7,"y":4,"x2":7.9},{"x":8,"y":4,"x2":8.9},{"x":9,"y":4,"x2":9.9},{"x":10,"y":4,"x2":10.9},{"x":11,"y":4,"x2":11.9},{"x":12,"y":4,"x2":12.3},{"x":13,"y":4,"x2":13},{"x":14,"y":4,"x2":14.9},{"x":15,"y":4,"x2":15.9},{"x":16,"y":4,"x2":16.9},{"x":17,"y":4,"x2":17.9},{"x":18,"y":4,"x2":18.9},{"x":19,"y":4,"x2":19.9},{"x":20,"y":4,"x2":20.9},{"x":21,"y":4,"x2":21.9},{"x":22,"y":4,"x2":22},
{"x":1,"y":3,"x2":1.9},{"x":2,"y":3,"x2":2.9},{"x":3,"y":3,"x2":3.9},{"x":4,"y":3,"x2":4.9},{"x":5,"y":3,"x2":5.9},{"x":6,"y":3,"x2":6.9},{"x":7,"y":3,"x2":7.9},{"x":8,"y":3,"x2":8.9},{"x":9,"y":3,"x2":9.9},{"x":10,"y":3,"x2":10.9},{"x":11,"y":3,"x2":11.9},{"x":12,"y":3,"x2":12.9},{"x":13,"y":3,"x2":13.9},{"x":14,"y":3,"x2":14.9},{"x":15,"y":3,"x2":15.9},{"x":16,"y":3,"x2":16.9},{"x":17,"y":3,"x2":17.9},{"x":18,"y":3,"x2":18.9},{"x":19,"y":3,"x2":19.9},{"x":20,"y":3,"x2":20.9},{"x":21,"y":3,"x2":21.9},{"x":22,"y":3,"x2":22},
{"x":1,"y":2,"x2":1.9},{"x":2,"y":2,"x2":2.9},{"x":3,"y":2,"x2":3.9},{"x":4,"y":2,"x2":4.9},{"x":5,"y":2,"x2":5.9},{"x":6,"y":2,"x2":6.9},{"x":7,"y":2,"x2":7.9},{"x":8,"y":2,"x2":8.9},{"x":9,"y":2,"x2":9.9},{"x":10,"y":2,"x2":10.9},{"x":11,"y":2,"x2":11.9},{"x":12,"y":2,"x2":12.9},{"x":13,"y":2,"x2":13.9},{"x":14,"y":2,"x2":14.5},{"x":15,"y":2,"x2":15.9},{"x":16,"y":2,"x2":16.9},{"x":17,"y":2,"x2":17.9},{"x":18,"y":2,"x2":18.9},{"x":19,"y":2,"x2":19.5},{"x":20,"y":2,"x2":20},{"x":21,"y":2,"x2":21.9},{"x":22,"y":2,"x2":22},
{"x":1,"y":1,"x2":1.9},{"x":2,"y":1,"x2":2.9},{"x":3,"y":1,"x2":3.9},{"x":4,"y":1,"x2":4.9},{"x":5,"y":1,"x2":5.9},{"x":6,"y":1,"x2":6.9},{"x":7,"y":1,"x2":7.9},{"x":8,"y":1,"x2":8.9},{"x":9,"y":1,"x2":9.9},{"x":10,"y":1,"x2":10.9},{"x":11,"y":1,"x2":11.9},{"x":12,"y":1,"x2":12.9},{"x":13,"y":1,"x2":13.9},{"x":14,"y":1,"x2":14.9},{"x":15,"y":1,"x2":15},{"x":16,"y":1,"x2":16.3},{"x":17,"y":1,"x2":17.9},{"x":18,"y":1,"x2":18.9},{"x":19,"y":1,"x2":19.9},{"x":20,"y":1,"x2":20.9},{"x":21,"y":1,"x2":21.9},{"x":22,"y":1,"x2":22}
],
"cd":[
{"x":13,"y":17,"x2":13.4,"y2":16.7},{"x":14,"y":17,"x2":14.3,"y2":16.8},{"x":15,"y":17,"x2":15.6,"y2":16.7},{"x":16,"y":17,"x2":16.6,"y2":16.7},{"x":17,"y":17,"x2":17.6,"y2":16.6},
{"x":11,"y":16,"x2":11.9,"y2":15.7},{"x":13,"y":16,"x2":13.3,"y2":15.6},{"x":15,"y":16,"x2":15,"y2":15.5},{"x":17,"y":16,"x2":17.8,"y2":15.7},
{"x":1,"y":15,"x2":2,"y2":15.8},{"x":11,"y":15,"x2":11.9,"y2":14.6},{"x":13,"y":15,"x2":13.3,"y2":14.7},{"x":15,"y":15,"x2":15,"y2":14.4},{"x":16,"y":15,"x2":16.5,"y2":15.4},{"x":17,"y":15,"x2":17.8,"y2":14.7},
{"x":5,"y":14,"x2":5.9,"y2":13.9},{"x":12,"y":14,"x2":12.3,"y2":13.7},{"x":16,"y":14,"x2":16.25,"y2":14.85},{"x":17,"y":14,"x2":16.2,"y2":14.85},{"x":20,"y":14,"x2":20.1,"y2":13.1},
{"x":12,"y":13,"x2":12.8,"y2":12.6},{"x":15,"y":13,"x2":15.3,"y2":13.5},{"x":16,"y":13,"x2":16.6,"y2":12.5},{"x":17,"y":13,"x2":17.5,"y2":12.5},{"x":18,"y":13,"x2":18.6,"y2":13.3},
{"x":9,"y":12,"x2":9.9,"y2":11.9},{"x":13,"y":12,"x2":13.3,"y2":11.8},{"x":15,"y":12,"x2":15.3,"y2":12.3},{"x":16,"y":12,"x2":16.6,"y2":11.6},{"x":17,"y":12,"x2":17.7,"y2":11.7},{"x":19,"y":12,"x2":19.1,"y2":12.3},
{"x":2,"y":11,"x2":2.4,"y2":10.5},{"x":9,"y":11,"x2":9.1,"y2":11.2},{"x":11,"y":11,"x2":11.1,"y2":11.3},{"x":12,"y":11,"x2":12.1,"y2":11.3},{"x":13,"y":11,"x2":13.4,"y2":11.4},{"x":14,"y":11,"x2":14.1,"y2":11.3},{"x":16,"y":11,"x2":16.8,"y2":10.7},
{"x":2,"y":10,"x2":2.4,"y2":9.5},{"x":10,"y":10,"x2":10.9,"y2":10.6},{"x":12,"y":10,"x2":12.2,"y2":10.3},{"x":14,"y":10,"x2":14.2,"y2":10.3},{"x":15,"y":10,"x2":15.2,"y2":10.3},{"x":21,"y":10,"x2":21.5,"y2":9.7},
{"x":2,"y":9,"x2":2.4,"y2":8.6},{"x":8,"y":9,"x2":8.4,"y2":8.6},{"x":10,"y":9,"x2":10.9,"y2":9.7},{"x":11,"y":9,"x2":8.5,"y2":6.9},
{"x":2,"y":8,"x2":2.3,"y2":7.7},{"x":7,"y":8,"x2":7,"y2":8.2},{"x":9,"y":8,"x2":9.9,"y2":8.8},{"x":10,"y":8,"x2":11,"y2":8.8},{"x":11,"y":8,"x2":11.6,"y2":8.5},{"x":12,"y":8,"x2":12.4,"y2":8.3},{"x":13,"y":8,"x2":13.4,"y2":7.7},
{"x":2,"y":7,"x2":2.3,"y2":6.7},{"x":3,"y":7,"x2":3.3,"y2":6.7},{"x":8,"y":7,"x2":8.3,"y2":6.7},{"x":9,"y":7,"x2":9.9,"y2":7.8},{"x":10,"y":7,"x2":10.8,"y2":7.6},{"x":11,"y":7,"x2":11.5,"y2":7.4},{"x":12,"y":7,"x2":12.3,"y2":7.3},{"x":14,"y":7,"x2":14.4,"y2":6.8},
{"x":2,"y":6,"x2":2.3,"y2":5.7},{"x":3,"y":6,"x2":3.3,"y2":5.7},{"x":8,"y":6,"x2":8.2,"y2":6.3}
],
"d":[
{"x":1,"y":18,"x2":1.9},{"x":2,"y":18,"x2":2},{"x":3,"y":18,"x2":3},{"x":4,"y":18,"x2":4.9},{"x":5,"y":18,"x2":5.9},{"x":6,"y":18,"x2":6.6},{"x":7,"y":18,"x2":7},{"x":8,"y":18,"x2":8.6},{"x":9,"y":18,"x2":9.6},{"x":10,"y":18,"x2":10.6},{"x":11,"y":18,"x2":11},{"x":12,"y":18,"x2":12.6},{"x":13,"y":18,"x2":13.6},{"x":14,"y":18,"x2":14.6},{"x":15,"y":18,"x2":15.6},{"x":16,"y":18,"x2":16.6},{"x":17,"y":18,"x2":17},{"x":18,"y":18,"x2":18.6},{"x":19,"y":18,"x2":19.6},{"x":20,"y":18,"x2":20.6},{"x":21,"y":18,"x2":21},{"x":22,"y":18,"x2":22},
{"x":1,"y":17,"x2":1},{"x":2,"y":17,"x2":2.3},{"x":3,"y":17,"x2":3.7},{"x":4,"y":17,"x2":4.7},{"x":5,"y":17,"x2":5.7},{"x":6,"y":17,"x2":6.7},{"x":7,"y":17,"x2":7.7},{"x":8,"y":17,"x2":8.7},{"x":9,"y":17,"x2":9.7},{"x":10,"y":17,"x2":10.7},{"x":11,"y":17,"x2":11.7},{"x":12,"y":17,"x2":12.7},{"x":13,"y":17,"x2":13.7},{"x":14,"y":17,"x2":14.7},{"x":15,"y":17,"x2":15.7},{"x":16,"y":17,"x2":16.7},{"x":17,"y":17,"x2":17},{"x":18,"y":17,"x2":18.7},{"x":19,"y":17,"x2":19.7},{"x":20,"y":17,"x2":20.7},{"x":21,"y":17,"x2":21.7},{"x":22,"y":17,"x2":22},
{"x":1,"y":16,"x2":1.7},{"x":2,"y":16,"x2":2.7},{"x":3,"y":16,"x2":3.7},{"x":4,"y":16,"x2":4},{"x":5,"y":16,"x2":5.7},{"x":6,"y":16,"x2":6.7},{"x":7,"y":16,"x2":7.7},{"x":8,"y":16,"x2":8.7},{"x":9,"y":16,"x2":9.7},{"x":10,"y":16,"x2":10.7},{"x":11,"y":16,"x2":11.7},{"x":12,"y":16,"x2":12.7},{"x":13,"y":16,"x2":13.7},{"x":14,"y":16,"x2":14.7},{"x":15,"y":16,"x2":15.7},{"x":16,"y":16,"x2":16},{"x":17,"y":16,"x2":17},{"x":18,"y":16,"x2":18.7},{"x":19,"y":16,"x2":19.7},{"x":20,"y":16,"x2":20},{"x":21,"y":16,"x2":21.7},{"x":22,"y":16,"x2":22},
{"x":1,"y":15,"x2":1.9},{"x":2,"y":15,"x2":2.7},{"x":3,"y":15,"x2":3.7},{"x":4,"y":15,"x2":4.7},{"x":5,"y":15,"x2":5.7},{"x":6,"y":15,"x2":6.7},{"x":7,"y":15,"x2":7.7},{"x":8,"y":15,"x2":8.7},{"x":9,"y":15,"x2":9.7},{"x":10,"y":15,"x2":10.7},{"x":11,"y":15,"x2":11.7},{"x":12,"y":15,"x2":12.7},{"x":13,"y":15,"x2":13.7},{"x":14,"y":15,"x2":14.7},{"x":15,"y":15,"x2":15.7},{"x":16,"y":15,"x2":16.7},{"x":17,"y":15,"x2":17.7},{"x":18,"y":15,"x2":18.7},{"x":19,"y":15,"x2":19.7},{"x":20,"y":15,"x2":20.7},{"x":21,"y":15,"x2":21.3},{"x":22,"y":15,"x2":22},
{"x":1,"y":14,"x2":1.7},{"x":2,"y":14,"x2":2.7},{"x":3,"y":14,"x2":3.7},{"x":4,"y":14,"x2":4.7},{"x":5,"y":14,"x2":5.7},{"x":6,"y":14,"x2":6.7},{"x":7,"y":14,"x2":7.7},{"x":8,"y":14,"x2":8.7},{"x":9,"y":14,"x2":9.7},{"x":10,"y":14,"x2":10.7},{"x":11,"y":14,"x2":11.7},{"x":12,"y":14,"x2":12.7},{"x":13,"y":14,"x2":13.7},{"x":14,"y":14,"x2":14.7},{"x":15,"y":14,"x2":15.7},{"x":16,"y":14,"x2":16.7},{"x":17,"y":14,"x2":17.7},{"x":18,"y":14,"x2":18.7},{"x":19,"y":14,"x2":19.7},{"x":20,"y":14,"x2":20.7},{"x":21,"y":14,"x2":21.7},{"x":22,"y":14,"x2":22},
{"x":1,"y":13,"x2":1},{"x":2,"y":13,"x2":2},{"x":3,"y":13,"x2":3},{"x":4,"y":13,"x2":4.7},{"x":5,"y":13,"x2":5.7},{"x":6,"y":13,"x2":6.7},{"x":7,"y":13,"x2":7.7},{"x":8,"y":13,"x2":8.7},{"x":9,"y":13,"x2":9.7},{"x":10,"y":13,"x2":10.7},{"x":11,"y":13,"x2":11.7},{"x":12,"y":13,"x2":12.7},{"x":13,"y":13,"x2":13.7},{"x":14,"y":13,"x2":14.7},{"x":15,"y":13,"x2":15.7},{"x":16,"y":13,"x2":16.7},{"x":17,"y":13,"x2":17.7},{"x":18,"y":13,"x2":18.7},{"x":19,"y":13,"x2":19.7},{"x":20,"y":13,"x2":20.7},{"x":21,"y":13,"x2":21.7},{"x":22,"y":13,"x2":22},
{"x":1,"y":12,"x2":1.3},{"x":2,"y":12,"x2":2},{"x":3,"y":12,"x2":3.7},{"x":4,"y":12,"x2":4.7},{"x":5,"y":12,"x2":5.7},{"x":6,"y":12,"x2":6.7},{"x":7,"y":12,"x2":7.7},{"x":8,"y":12,"x2":8.7},{"x":9,"y":12,"x2":9.7},{"x":10,"y":12,"x2":10.5},{"x":11,"y":12,"x2":11},{"x":12,"y":12,"x2":12.7},{"x":13,"y":12,"x2":13.7},{"x":14,"y":12,"x2":14.7},{"x":15,"y":12,"x2":15.7},{"x":16,"y":12,"x2":16.7},{"x":17,"y":12,"x2":17.7},{"x":18,"y":12,"x2":18.7},{"x":19,"y":12,"x2":19},{"x":20,"y":12,"x2":20.2},{"x":21,"y":12,"x2":21.4},{"x":22,"y":12,"x2":22},
{"x":1,"y":11,"x2":1},{"x":2,"y":11,"x2":2},{"x":3,"y":11,"x2":3.7},{"x":4,"y":11,"x2":4.7},{"x":5,"y":11,"x2":5.7},{"x":6,"y":11,"x2":6.7},{"x":7,"y":11,"x2":7.7},{"x":8,"y":11,"x2":8.7},{"x":9,"y":11,"x2":9.7},{"x":10,"y":11,"x2":10.7},{"x":11,"y":11,"x2":11.7},{"x":12,"y":11,"x2":12.7},{"x":13,"y":11,"x2":13.7},{"x":14,"y":11,"x2":14.7},{"x":15,"y":11,"x2":15.7},{"x":16,"y":11,"x2":16.7},{"x":17,"y":11,"x2":17.7},{"x":18,"y":11,"x2":18.7},{"x":19,"y":11,"x2":19.7},{"x":20,"y":11,"x2":20.7},{"x":21,"y":11,"x2":21.7},{"x":22,"y":11,"x2":22},
{"x":1,"y":10,"x2":1.7},{"x":2,"y":10,"x2":2.7},{"x":3,"y":10,"x2":3.7},{"x":4,"y":10,"x2":4.7},{"x":5,"y":10,"x2":5.7},{"x":6,"y":10,"x2":6.7},{"x":7,"y":10,"x2":7.7},{"x":8,"y":10,"x2":8.7},{"x":9,"y":10,"x2":9.7},{"x":10,"y":10,"x2":10.7},{"x":11,"y":10,"x2":11.7},{"x":12,"y":10,"x2":12.7},{"x":13,"y":10,"x2":13.7},{"x":14,"y":10,"x2":14.7},{"x":15,"y":10,"x2":15.7},{"x":16,"y":10,"x2":16.7},{"x":17,"y":10,"x2":17.7},{"x":18,"y":10,"x2":18.7},{"x":19,"y":10,"x2":19.7},{"x":20,"y":10,"x2":20.7},{"x":21,"y":10,"x2":21.7},{"x":22,"y":10,"x2":22},
{"x":1,"y":9,"x2":1.7},{"x":2,"y":9,"x2":2.7},{"x":3,"y":9,"x2":3.7},{"x":4,"y":9,"x2":4.7},{"x":5,"y":9,"x2":5},{"x":6,"y":9,"x2":6.7},{"x":7,"y":9,"x2":7},{"x":8,"y":9,"x2":8.7},{"x":9,"y":9,"x2":9.7},{"x":10,"y":9,"x2":10.7},{"x":11,"y":9,"x2":11.7},{"x":12,"y":9,"x2":12.7},{"x":13,"y":9,"x2":13.7},{"x":14,"y":9,"x2":14},{"x":15,"y":9,"x2":15.7},{"x":16,"y":9,"x2":16.7},{"x":17,"y":9,"x2":17.7},{"x":18,"y":9,"x2":18.7},{"x":19,"y":9,"x2":19.7},{"x":20,"y":9,"x2":20.7},{"x":21,"y":9,"x2":21.7},{"x":22,"y":9,"x2":22},
{"x":1,"y":8,"x2":1.7},{"x":2,"y":8,"x2":2.7},{"x":3,"y":8,"x2":3.7},{"x":4,"y":8,"x2":4.7},{"x":5,"y":8,"x2":5},{"x":6,"y":8,"x2":6},{"x":7,"y":8,"x2":7},{"x":8,"y":8,"x2":8},{"x":9,"y":8,"x2":9.7},{"x":10,"y":8,"x2":10},{"x":11,"y":8,"x2":11.7},{"x":12,"y":8,"x2":12.7},{"x":13,"y":8,"x2":13.7},{"x":14,"y":8,"x2":14.7},{"x":15,"y":8,"x2":15.7},{"x":16,"y":8,"x2":16},{"x":17,"y":8,"x2":17.7},{"x":18,"y":8,"x2":18.7},{"x":19,"y":8,"x2":19.7},{"x":20,"y":8,"x2":20.7},{"x":21,"y":8,"x2":21.7},{"x":22,"y":8,"x2":22},
{"x":1,"y":7,"x2":1.7},{"x":2,"y":7,"x2":2.7},{"x":3,"y":7,"x2":3.7},{"x":4,"y":7,"x2":4.7},{"x":5,"y":7,"x2":5.7},{"x":6,"y":7,"x2":6},{"x":7,"y":7,"x2":7},{"x":8,"y":7,"x2":8},{"x":9,"y":7,"x2":9},{"x":10,"y":7,"x2":10},{"x":11,"y":7,"x2":11.5},{"x":12,"y":7,"x2":12.4},{"x":13,"y":7,"x2":13.5},{"x":14,"y":7,"x2":14},{"x":15,"y":7,"x2":15},{"x":16,"y":7,"x2":16.7},{"x":17,"y":7,"x2":17.7},{"x":18,"y":7,"x2":18.7},{"x":19,"y":7,"x2":19.7},{"x":20,"y":7,"x2":20.7},{"x":21,"y":7,"x2":21.7},{"x":22,"y":7,"x2":22},
{"x":1,"y":6,"x2":1.7},{"x":2,"y":6,"x2":2.7},{"x":3,"y":6,"x2":3.7},{"x":4,"y":6,"x2":4.7},{"x":5,"y":6,"x2":5.7},{"x":6,"y":6,"x2":6},{"x":7,"y":6,"x2":7},{"x":8,"y":6,"x2":8},{"x":9,"y":6,"x2":9},{"x":10,"y":6,"x2":10.7},{"x":11,"y":6,"x2":11.7},{"x":12,"y":6,"x2":12.7},{"x":13,"y":6,"x2":13.7},{"x":14,"y":6,"x2":14},{"x":15,"y":6,"x2":15.7},{"x":16,"y":6,"x2":16.7},{"x":17,"y":6,"x2":17},{"x":18,"y":6,"x2":18.7},{"x":19,"y":6,"x2":19.7},{"x":20,"y":6,"x2":20.7},{"x":21,"y":6,"x2":21.7},{"x":22,"y":6,"x2":22},
{"x":1,"y":5,"x2":1.7},{"x":2,"y":5,"x2":2.7},{"x":3,"y":5,"x2":3.7},{"x":4,"y":5,"x2":4.7},{"x":5,"y":5,"x2":5.7},{"x":6,"y":5,"x2":6.7},{"x":7,"y":5,"x2":7.7},{"x":8,"y":5,"x2":8.7},{"x":9,"y":5,"x2":9.7},{"x":10,"y":5,"x2":10},{"x":11,"y":5,"x2":11.7},{"x":12,"y":5,"x2":12.7},{"x":13,"y":5,"x2":13.7},{"x":14,"y":5,"x2":14.7},{"x":15,"y":5,"x2":15.7},{"x":16,"y":5,"x2":16.7},{"x":17,"y":5,"x2":17.7},{"x":18,"y":5,"x2":18.7},{"x":19,"y":5,"x2":19.7},{"x":20,"y":5,"x2":20.7},{"x":21,"y":5,"x2":21.7},{"x":22,"y":5,"x2":22},
{"x":1,"y":4,"x2":1.7},{"x":2,"y":4,"x2":2.7},{"x":3,"y":4,"x2":3.7},{"x":4,"y":4,"x2":4.7},{"x":5,"y":4,"x2":5.7},{"x":6,"y":4,"x2":6.7},{"x":7,"y":4,"x2":7.7},{"x":8,"y":4,"x2":8.7},{"x":9,"y":4,"x2":9.7},{"x":10,"y":4,"x2":10.7},{"x":11,"y":4,"x2":11.7},{"x":12,"y":4,"x2":12.7},{"x":13,"y":4,"x2":13.7},{"x":14,"y":4,"x2":14.7},{"x":15,"y":4,"x2":15.7},{"x":16,"y":4,"x2":16.7},{"x":17,"y":4,"x2":17.7},{"x":18,"y":4,"x2":18.7},{"x":19,"y":4,"x2":19.7},{"x":20,"y":4,"x2":20.7},{"x":21,"y":4,"x2":21.7},{"x":22,"y":4,"x2":22},
{"x":1,"y":3,"x2":1.7},{"x":2,"y":3,"x2":2.7},{"x":3,"y":3,"x2":3.7},{"x":4,"y":3,"x2":4.7},{"x":5,"y":3,"x2":5.7},{"x":6,"y":3,"x2":6.7},{"x":7,"y":3,"x2":7.7},{"x":8,"y":3,"x2":8.7},{"x":9,"y":3,"x2":9.7},{"x":10,"y":3,"x2":10.9},{"x":11,"y":3,"x2":11.7},{"x":12,"y":3,"x2":12.7},{"x":13,"y":3,"x2":13.7},{"x":14,"y":3,"x2":14.7},{"x":15,"y":3,"x2":15.7},{"x":16,"y":3,"x2":16.7},{"x":17,"y":3,"x2":17.7},{"x":18,"y":3,"x2":18.7},{"x":19,"y":3,"x2":19.7},{"x":20,"y":3,"x2":20.7},{"x":21,"y":3,"x2":21.7},{"x":22,"y":3,"x2":22},
{"x":1,"y":2,"x2":1},{"x":2,"y":2,"x2":2.7},{"x":3,"y":2,"x2":3.7},{"x":4,"y":2,"x2":4.7},{"x":5,"y":2,"x2":5.7},{"x":6,"y":2,"x2":6.7},{"x":7,"y":2,"x2":7.7},{"x":8,"y":2,"x2":8.7},{"x":9,"y":2,"x2":9.7},{"x":10,"y":2,"x2":10.7},{"x":11,"y":2,"x2":11.7},{"x":12,"y":2,"x2":12.7},{"x":13,"y":2,"x2":13.7},{"x":14,"y":2,"x2":14.7},{"x":15,"y":2,"x2":15.7},{"x":16,"y":2,"x2":16.7},{"x":17,"y":2,"x2":17.7},{"x":18,"y":2,"x2":18.7},{"x":19,"y":2,"x2":19.7},{"x":20,"y":2,"x2":20.7},{"x":21,"y":2,"x2":21.7},{"x":22,"y":2,"x2":22},
{"x":1,"y":1,"x2":1.5},{"x":2,"y":1,"x2":2},{"x":3,"y":1,"x2":3.6},{"x":4,"y":1,"x2":4},{"x":5,"y":1,"x2":5.3},{"x":6,"y":1,"x2":6.6},{"x":7,"y":1,"x2":7.6},{"x":8,"y":1,"x2":8.6},{"x":9,"y":1,"x2":9.6},{"x":10,"y":1,"x2":10.6},{"x":11,"y":1,"x2":11.6},{"x":12,"y":1,"x2":12.6},{"x":13,"y":1,"x2":13.6},{"x":14,"y":1,"x2":14.6},{"x":15,"y":1,"x2":15.6},{"x":16,"y":1,"x2":16.6},{"x":17,"y":1,"x2":17.6},{"x":18,"y":1,"x2":18.6},{"x":19,"y":1,"x2":19.6},{"x":20,"y":1,"x2":20.6},{"x":21,"y":1,"x2":21.6},{"x":22,"y":1,"x2":22}
],
"dd":[{"x":1,"y":13,"x2":1.1,"y2":13.2}],
"rings":[{"id":"b1","x":8.43,"y":7.6},{"id":"b2","x":20.56,"y":2.0},{"id":"c","x":16.3,"y":2.78},{"id":"d","x":5.7,"y":3.87}]
},
"concat":[
{"width":234,"height":179,"title":{"text":"(a) foreman","orient":"bottom","font":"Liberation Serif","fontSize":21,"fontWeight":"normal","color":"#222","offset":4},
"layer":[
{"data":{"name":"a"},"mark":{"type":"rule","color":"#1414ff","strokeWidth":1.3,"strokeCap":"round"},"encoding":{"x":{"field":"x","type":"quantitative","scale":{"domain":[0,23],"nice":false,"zero":false},"axis":{"values":[0,5,10,15,20]}},"x2":{"field":"x2"},"y":{"field":"y","type":"quantitative","scale":{"domain":[0,19],"nice":false,"zero":false},"axis":{"values":[0,2,4,6,8,10,12,14,16,18]}}}},
{"data":{"name":"ad"},"mark":{"type":"rule","color":"#1414ff","strokeWidth":1.3,"strokeCap":"round"},"encoding":{"x":{"field":"x","type":"quantitative","scale":{"domain":[0,23],"nice":false,"zero":false},"axis":null},"x2":{"field":"x2"},"y":{"field":"y","type":"quantitative","scale":{"domain":[0,19],"nice":false,"zero":false},"axis":null},"y2":{"field":"y2"}}},
{"data":{"name":"a"},"mark":{"type":"point","shape":"circle","filled":true,"size":3,"color":"#6a6ae0","opacity":0.8},"encoding":{"x":{"field":"x","type":"quantitative","scale":{"domain":[0,23],"nice":false,"zero":false},"axis":{"orient":"top","labels":false,"values":[0,5,10,15,20]}},"y":{"field":"y","type":"quantitative","scale":{"domain":[0,19],"nice":false,"zero":false},"axis":{"orient":"right","labels":false,"values":[0,2,4,6,8,10,12,14,16,18]}}}}
],
"resolve":{"axis":{"x":"independent","y":"independent"}}},
{"width":230,"height":179,"title":{"text":"(b) stefan","orient":"bottom","font":"Liberation Serif","fontSize":21,"fontWeight":"normal","color":"#222","offset":4},
"layer":[
{"data":{"name":"b"},"mark":{"type":"rule","color":"#1414ff","strokeWidth":1.3,"strokeCap":"round"},"encoding":{"x":{"field":"x","type":"quantitative","scale":{"domain":[0,22.7],"nice":false,"zero":false},"axis":{"values":[0,5,10,15,20]}},"x2":{"field":"x2"},"y":{"field":"y","type":"quantitative","scale":{"domain":[0,19],"nice":false,"zero":false},"axis":{"values":[0,2,4,6,8,10,12,14,16,18]}}}},
{"data":{"name":"bd"},"mark":{"type":"rule","color":"#1414ff","strokeWidth":1.3,"strokeCap":"round"},"encoding":{"x":{"field":"x","type":"quantitative","scale":{"domain":[0,22.7],"nice":false,"zero":false},"axis":null},"x2":{"field":"x2"},"y":{"field":"y","type":"quantitative","scale":{"domain":[0,19],"nice":false,"zero":false},"axis":null},"y2":{"field":"y2"}}},
{"data":{"name":"b"},"mark":{"type":"point","shape":"circle","filled":true,"size":3,"color":"#6a6ae0","opacity":0.8},"encoding":{"x":{"field":"x","type":"quantitative","scale":{"domain":[0,22.7],"nice":false,"zero":false},"axis":{"orient":"top","labels":false,"values":[0,5,10,15,20]}},"y":{"field":"y","type":"quantitative","scale":{"domain":[0,19],"nice":false,"zero":false},"axis":{"orient":"right","labels":false,"values":[0,2,4,6,8,10,12,14,16,18]}}}},
{"data":{"name":"rings"},"transform":[{"filter":"datum.id == 'b1'"}],"mark":{"type":"point","shape":"M-1,0A1,0.35,0,1,0,1,0A1,0.35,0,1,0,-1,0Z","size":5929,"filled":false,"color":"#e8141c","strokeWidth":1.8,"opacity":1},"encoding":{"x":{"field":"x","type":"quantitative","scale":{"domain":[0,22.7],"nice":false,"zero":false},"axis":null},"y":{"field":"y","type":"quantitative","scale":{"domain":[0,19],"nice":false,"zero":false},"axis":null}}},
{"data":{"name":"rings"},"transform":[{"filter":"datum.id == 'b2'"}],"mark":{"type":"point","shape":"M-1,0A1,0.84,0,1,0,1,0A1,0.84,0,1,0,-1,0Z","size":2025,"filled":false,"color":"#e8141c","strokeWidth":1.8,"opacity":1},"encoding":{"x":{"field":"x","type":"quantitative","scale":{"domain":[0,22.7],"nice":false,"zero":false},"axis":null},"y":{"field":"y","type":"quantitative","scale":{"domain":[0,19],"nice":false,"zero":false},"axis":null}}}
],
"resolve":{"axis":{"x":"independent","y":"independent"}}},
{"width":234,"height":179,"title":{"text":"(c) football","orient":"bottom","font":"Liberation Serif","fontSize":21,"fontWeight":"normal","color":"#222","offset":4},
"layer":[
{"data":{"name":"c"},"mark":{"type":"rule","color":"#1414ff","strokeWidth":1.3,"strokeCap":"round"},"encoding":{"x":{"field":"x","type":"quantitative","scale":{"domain":[0,23],"nice":false,"zero":false},"axis":{"values":[0,5,10,15,20]}},"x2":{"field":"x2"},"y":{"field":"y","type":"quantitative","scale":{"domain":[0,19],"nice":false,"zero":false},"axis":{"values":[0,2,4,6,8,10,12,14,16,18]}}}},
{"data":{"name":"cd"},"mark":{"type":"rule","color":"#1414ff","strokeWidth":1.3,"strokeCap":"round"},"encoding":{"x":{"field":"x","type":"quantitative","scale":{"domain":[0,23],"nice":false,"zero":false},"axis":null},"x2":{"field":"x2"},"y":{"field":"y","type":"quantitative","scale":{"domain":[0,19],"nice":false,"zero":false},"axis":null},"y2":{"field":"y2"}}},
{"data":{"name":"c"},"mark":{"type":"point","shape":"circle","filled":true,"size":3,"color":"#6a6ae0","opacity":0.8},"encoding":{"x":{"field":"x","type":"quantitative","scale":{"domain":[0,23],"nice":false,"zero":false},"axis":{"orient":"top","labels":false,"values":[0,5,10,15,20]}},"y":{"field":"y","type":"quantitative","scale":{"domain":[0,19],"nice":false,"zero":false},"axis":{"orient":"right","labels":false,"values":[0,2,4,6,8,10,12,14,16,18]}}}},
{"data":{"name":"rings"},"transform":[{"filter":"datum.id == 'c'"}],"mark":{"type":"point","shape":"M-1,0A1,0.5,0,1,0,1,0A1,0.5,0,1,0,-1,0Z","size":12100,"filled":false,"color":"#e8141c","strokeWidth":1.8,"opacity":1},"encoding":{"x":{"field":"x","type":"quantitative","scale":{"domain":[0,23],"nice":false,"zero":false},"axis":null},"y":{"field":"y","type":"quantitative","scale":{"domain":[0,19],"nice":false,"zero":false},"axis":null}}}
],
"resolve":{"axis":{"x":"independent","y":"independent"}}},
{"width":230,"height":179,"title":{"text":"(c) bus","orient":"bottom","font":"Liberation Serif","fontSize":21,"fontWeight":"normal","color":"#222","offset":4},
"layer":[
{"data":{"name":"d"},"mark":{"type":"rule","color":"#1414ff","strokeWidth":1.3,"strokeCap":"round"},"encoding":{"x":{"field":"x","type":"quantitative","scale":{"domain":[0,22.7],"nice":false,"zero":false},"axis":{"values":[0,5,10,15,20]}},"x2":{"field":"x2"},"y":{"field":"y","type":"quantitative","scale":{"domain":[0,19],"nice":false,"zero":false},"axis":{"values":[0,2,4,6,8,10,12,14,16,18]}}}},
{"data":{"name":"dd"},"mark":{"type":"rule","color":"#1414ff","strokeWidth":1.3,"strokeCap":"round"},"encoding":{"x":{"field":"x","type":"quantitative","scale":{"domain":[0,22.7],"nice":false,"zero":false},"axis":null},"x2":{"field":"x2"},"y":{"field":"y","type":"quantitative","scale":{"domain":[0,19],"nice":false,"zero":false},"axis":null},"y2":{"field":"y2"}}},
{"data":{"name":"d"},"mark":{"type":"point","shape":"circle","filled":true,"size":3,"color":"#6a6ae0","opacity":0.8},"encoding":{"x":{"field":"x","type":"quantitative","scale":{"domain":[0,22.7],"nice":false,"zero":false},"axis":{"orient":"top","labels":false,"values":[0,5,10,15,20]}},"y":{"field":"y","type":"quantitative","scale":{"domain":[0,19],"nice":false,"zero":false},"axis":{"orient":"right","labels":false,"values":[0,2,4,6,8,10,12,14,16,18]}}}},
{"data":{"name":"rings"},"transform":[{"filter":"datum.id == 'd'"}],"mark":{"type":"point","shape":"M-1,0A1,0.615,0,1,0,1,0A1,0.615,0,1,0,-1,0Z","size":13689,"filled":false,"color":"#e8141c","strokeWidth":1.8,"opacity":1},"encoding":{"x":{"field":"x","type":"quantitative","scale":{"domain":[0,22.7],"nice":false,"zero":false},"axis":null},"y":{"field":"y","type":"quantitative","scale":{"domain":[0,19],"nice":false,"zero":false},"axis":null}}}
],
"resolve":{"axis":{"x":"independent","y":"independent"}}}
]
}
